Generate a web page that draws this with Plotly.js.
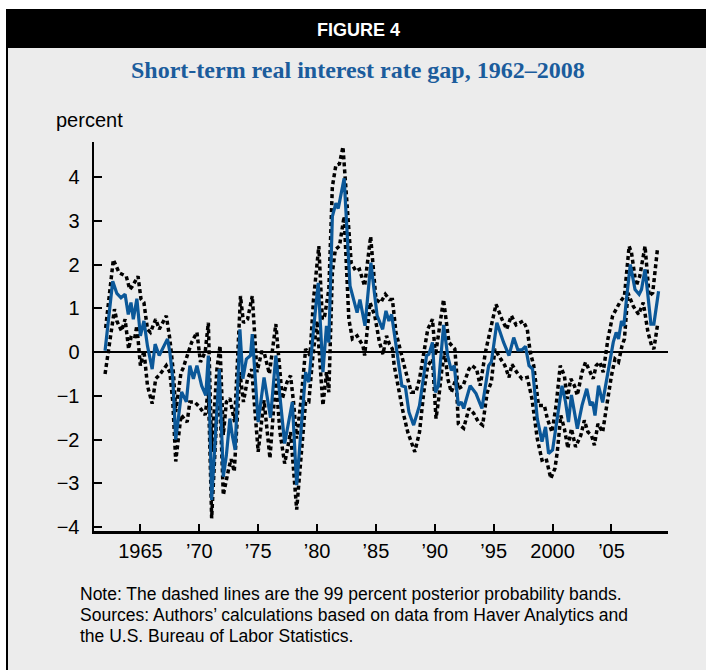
<!DOCTYPE html>
<html>
<head>
<meta charset="utf-8">
<script src="https://cdn.plot.ly/plotly-3.0.1.min.js"></script>
<style>html,body{margin:0;padding:0;background:#fff;}#chart{width:706px;height:670px;}</style>
</head>
<body>
<div id="chart"></div>
<script>
// ---- Data (decimal years, percent) ----
const gapYears = [1962.0,1962.65,1963.0,1963.35,1963.7,1963.97,1964.2,1964.4,1964.7,1965.0,1965.3,1965.6,1966.0,1966.25,1966.6,1967.3,1967.5,1967.75,1968.0,1968.5,1968.9,1969.2,1969.5,1969.8,1970.2,1970.55,1970.77,1971.05,1971.7,1972.04,1972.3,1972.6,1972.8,1973.05,1973.45,1973.7,1974.0,1974.35,1974.5,1975.0,1975.5,1976.05,1976.5,1977.25,1977.9,1978.27,1979.03,1979.3,1979.7,1980.1,1980.5,1980.8,1981.0,1981.3,1981.6,1981.8,1982.3,1982.8,1983.4,1983.64,1984.07,1984.57,1985.1,1985.57,1985.85,1986.1,1986.33,1986.76,1987.2,1987.5,1987.8,1988.2,1988.7,1989.3,1989.5,1989.8,1990.05,1990.3,1990.75,1991.1,1991.4,1991.65,1992.0,1992.25,1992.45,1993.0,1993.5,1994.0,1994.57,1994.8,1995.27,1995.84,1996.3,1996.7,1997.05,1997.4,1997.7,1998.0,1998.3,1998.7,1999.1,1999.4,1999.66,2000.0,2000.4,2000.8,2001.1,2001.35,2001.6,2002.1,2002.5,2002.9,2003.2,2003.4,2003.6,2003.9,2004.25,2004.7,2005.15,2005.4,2005.6,2005.85,2006.05,2006.3,2006.6,2007.0,2007.35,2007.55,2007.85,2008.1,2008.35,2008.6,2009.0];
const gapValues = [0.03,1.62,1.34,1.24,1.32,0.86,1.13,0.75,1.22,0.37,0.71,0.14,-0.39,0.18,-0.08,0.30,0.0,-0.61,-2.0,-0.91,-1.14,-0.31,-0.61,-0.31,-0.77,-0.99,-0.08,-3.38,-0.39,-2.85,-2.36,-1.52,-1.9,-2.24,0.52,-0.61,-0.16,-0.08,0.41,-1.6,-0.58,-1.5,-0.08,-2.09,-1.14,-3.04,-0.46,-0.69,0.52,1.58,-0.46,0.6,0.22,3.1,3.4,3.28,3.97,1.51,0.9,1.2,0.6,2.04,0.83,0.52,0.94,0.71,0.86,0.07,-0.77,-0.8,-1.37,-1.67,-1.22,-0.08,-0.05,0.22,-0.92,-0.77,0.62,-0.1,-0.42,-0.31,-1.22,-1.14,-1.29,-0.77,-0.95,-1.29,-0.31,-0.23,0.67,0.22,-0.08,0.33,0.05,0.05,0.13,-0.31,-0.39,-1.52,-2.05,-1.71,-2.32,-2.24,-1.52,-0.77,-1.14,-1.6,-0.98,-1.75,-1.22,-0.84,-1.22,-1.14,-1.45,-0.77,-1.15,-0.46,0.22,0.45,0.3,0.71,0.6,1.28,2.0,1.43,1.32,1.43,1.89,1.28,0.64,0.64,1.39];

const upperYears = [1962.05,1962.7,1963.2,1963.8,1964.1,1964.3,1964.8,1965.05,1965.3,1965.6,1965.85,1966.3,1966.6,1967.2,1967.5,1967.8,1968.0,1968.45,1968.6,1969.07,1969.35,1969.8,1970.1,1970.5,1970.77,1971.05,1971.5,1971.76,1972.04,1972.3,1972.6,1973.0,1973.5,1973.75,1974.1,1974.5,1974.9,1975.3,1975.5,1975.95,1976.5,1977.05,1977.45,1977.75,1978.0,1978.27,1978.65,1979.03,1979.4,1979.7,1980.15,1980.45,1980.65,1981.0,1981.3,1981.6,1981.9,1982.2,1982.6,1982.9,1983.3,1983.6,1984.04,1984.55,1985.0,1985.4,1985.8,1986.15,1986.4,1986.7,1987.4,1988.0,1988.4,1988.7,1989.4,1989.8,1990.05,1990.74,1991.2,1991.7,1991.96,1992.4,1992.9,1993.15,1993.55,1993.85,1994.3,1994.8,1995.2,1995.7,1996.1,1996.5,1996.9,1997.5,1997.85,1998.1,1998.4,1998.8,1999.3,1999.55,1999.95,2000.3,2000.65,2001.0,2001.25,2001.55,2001.85,2002.1,2002.5,2002.8,2003.2,2003.45,2003.7,2004.0,2004.3,2004.7,2005.1,2005.4,2005.7,2006.1,2006.5,2006.7,2007.1,2007.4,2007.85,2008.2,2008.5,2008.9];
const upperValues = [0.55,2.11,1.81,1.73,1.43,1.5,1.73,1.21,1.13,0.52,0.45,0.75,0.52,0.83,0.3,-0.46,-1.37,-0.46,-0.39,0.0,0.22,0.45,-0.23,0.0,0.67,-2.28,-0.39,0.15,-1.9,-1.14,-1.06,-1.6,1.28,0.67,0.75,1.28,-0.46,0.0,0.0,-0.5,0.64,-1.07,-0.69,-0.54,-1.14,-1.98,-1.07,0.07,-0.08,1.2,2.42,0.75,0.83,1.43,3.78,4.27,4.3,4.69,3.2,2.04,1.85,1.89,1.51,2.64,1.2,1.13,1.32,1.2,1.2,0.45,-0.31,-0.92,-0.92,-0.61,0.52,0.75,-0.08,1.2,0.22,0.07,-0.84,-0.77,-0.39,-0.31,-0.39,-0.77,0.0,0.6,1.09,0.75,0.52,0.83,0.62,0.71,0.52,0.0,-0.31,-1.22,-1.22,-1.52,-1.83,-1.22,-0.31,-0.54,-1.07,-0.61,-0.77,-0.99,-0.46,-0.23,-0.46,-0.61,-0.31,-0.23,-0.46,0.3,0.83,0.98,1.13,1.28,2.42,2.27,1.51,1.73,2.42,1.28,1.35,2.34];

const lowerYears = [1962.0,1962.4,1962.8,1963.0,1963.4,1963.7,1964.0,1964.2,1964.5,1964.7,1965.0,1965.3,1965.6,1966.0,1966.3,1966.6,1967.2,1967.5,1967.75,1968.0,1968.45,1968.97,1969.2,1969.6,1970.0,1970.5,1970.77,1971.05,1971.5,1971.76,1972.04,1972.5,1972.7,1972.97,1973.45,1973.75,1974.1,1974.45,1975.0,1975.5,1976.0,1976.5,1976.85,1977.25,1977.75,1978.27,1979.03,1979.3,1979.65,1980.0,1980.5,1980.8,1981.0,1981.3,1981.55,1981.9,1982.3,1982.7,1983.0,1983.4,1983.9,1984.04,1984.3,1984.5,1984.9,1985.3,1985.6,1985.9,1986.15,1986.4,1986.55,1987.0,1987.3,1987.7,1988.3,1988.7,1989.06,1989.4,1989.8,1990.1,1990.3,1990.6,1990.85,1991.1,1991.4,1991.8,1992.0,1992.45,1992.9,1993.3,1993.7,1994.06,1994.45,1994.8,1995.1,1995.6,1995.95,1996.3,1996.55,1996.95,1997.4,1997.85,1998.25,1998.7,1999.1,1999.45,1999.85,2000.2,2000.4,2000.7,2001.0,2001.3,2001.6,2001.95,2002.4,2002.7,2003.0,2003.3,2003.55,2003.85,2004.1,2004.25,2004.6,2005.0,2005.3,2005.6,2005.9,2006.1,2006.4,2006.85,2007.3,2007.7,2008.1,2008.4,2008.6,2008.9];
const lowerValues = [-0.5,0.3,0.98,0.71,0.48,0.75,0.07,0.33,0.3,0.6,-0.31,0.03,-0.77,-1.18,-0.61,-0.53,-0.31,-0.46,-1.14,-2.5,-1.44,-1.6,-1.14,-1.14,-1.25,-1.44,-0.84,-3.8,-1.37,-1.2,-3.27,-2.66,-2.45,-2.73,-0.46,-1.14,-0.61,-0.39,-2.28,-1.1,-2.43,-0.61,-1.83,-2.55,-1.83,-3.6,-1.14,-1.14,-0.08,0.71,-1.22,-0.46,-0.92,1.81,2.34,2.42,3.1,0.75,0.3,0.37,0.14,-0.08,0.52,1.13,0.83,0.22,-0.05,0.37,0.18,0.07,-0.31,-0.99,-1.37,-1.83,-2.28,-1.83,-0.92,-0.31,-0.16,-1.52,-1.14,-0.39,0.0,-0.61,-0.92,-0.61,-1.64,-1.74,-1.29,-1.4,-1.6,-1.67,-0.92,-0.69,0.07,-0.16,-0.31,-0.58,-0.28,-0.46,-0.61,-0.58,-1.07,-1.98,-2.47,-2.43,-2.89,-2.66,-2.28,-1.45,-1.75,-2.2,-1.75,-2.17,-1.9,-1.56,-1.83,-1.9,-2.13,-1.64,-1.75,-1.83,-1.22,-0.54,-0.16,-0.23,0.15,0.3,1.35,1.05,0.86,1.13,0.45,0.15,0.07,0.6];

const xTickVals = [1965,1970,1975,1980,1985,1990,1995,2000,2005];
const xTickText = ['1965','\u201970','\u201975','\u201980','\u201985','\u201990','\u201995','2000','\u201905'];
const yTickVals = [-4,-3,-2,-1,0,1,2,3,4];

// ---- pixel helpers for frame decorations ----
const L = 94, R = 668, T = 142, B = 531, W = 706, H = 670;
const PX = x => (x - L) / (R - L);
const PY = y => (B - y) / (B - T);

const dotted = {color: '#000', width: 3.5, dash: '4px,3px'};
const traces = [
  {x: upperYears, y: upperValues, type: 'scatter', mode: 'lines', line: dotted, hoverinfo: 'skip'},
  {x: lowerYears, y: lowerValues, type: 'scatter', mode: 'lines', line: dotted, hoverinfo: 'skip'},
  {x: gapYears, y: gapValues, type: 'scatter', mode: 'lines', line: {color: '#0b5899', width: 3.2}}
];

const sans = 'Liberation Sans, Arial, Helvetica, sans-serif';
const layout = {
  width: W, height: H,
  margin: {l: L, r: W - R, t: T, b: H - B, pad: 0},
  paper_bgcolor: '#ffffff',
  plot_bgcolor: 'rgba(0,0,0,0)',
  showlegend: false,
  font: {family: sans, size: 20, color: '#000'},
  xaxis: {
    range: [1961.06, 2009.8], showgrid: false, zeroline: false,
    showline: true, linecolor: '#000', linewidth: 2.5,
    ticks: 'inside', ticklen: 7, tickwidth: 2, tickcolor: '#000',
    tickvals: xTickVals, ticktext: xTickText,
    tickfont: {family: sans, size: 20, color: '#000'}
  },
  yaxis: {
    range: [-4.09, 4.8], showgrid: false,
    zeroline: true, zerolinecolor: '#000', zerolinewidth: 2,
    showline: true, linecolor: '#000', linewidth: 2.5,
    ticks: 'inside', ticklen: 8, tickwidth: 2, tickcolor: '#000',
    tickvals: yTickVals,
    tickfont: {family: sans, size: 20, color: '#000'},
    ticklabelstandoff: 8
  },
  shapes: [
    {type: 'rect', xref: 'paper', yref: 'paper', x0: PX(7), x1: PX(720), y0: PY(10), y1: PY(690),
     fillcolor: '#ececec', line: {color: '#000', width: 2}, layer: 'below'},
    {type: 'rect', xref: 'paper', yref: 'paper', x0: PX(7), x1: PX(720), y0: PY(10), y1: PY(48),
     fillcolor: '#000', line: {color: '#000', width: 0}, layer: 'below'}
  ],
  annotations: [
    {xref: 'paper', yref: 'paper', x: PX(358), y: PY(30), text: '<b>FIGURE 4</b>', showarrow: false,
     xanchor: 'center', yanchor: 'middle', font: {family: sans, size: 18, color: '#fff'}},
    {xref: 'paper', yref: 'paper', x: PX(358), y: PY(70), text: '<b>Short-term real interest rate gap, 1962\u20132008</b>', showarrow: false,
     xanchor: 'center', yanchor: 'middle', font: {family: 'Liberation Serif, Times New Roman, serif', size: 24, color: '#1b5c9c'}},
    {xref: 'paper', yref: 'paper', x: PX(54), y: PY(120), text: 'percent', showarrow: false,
     xanchor: 'left', yanchor: 'middle', font: {family: sans, size: 20, color: '#000'}},
    {xref: 'paper', yref: 'paper', x: PX(78), y: PY(594), text: 'Note: The dashed lines are the 99 percent posterior probability bands.', showarrow: false,
     xanchor: 'left', yanchor: 'middle', font: {family: sans, size: 17.5, color: '#000'}},
    {xref: 'paper', yref: 'paper', x: PX(78), y: PY(615), text: 'Sources: Authors\u2019 calculations based on data from Haver Analytics and', showarrow: false,
     xanchor: 'left', yanchor: 'middle', font: {family: sans, size: 17.5, color: '#000'}},
    {xref: 'paper', yref: 'paper', x: PX(78), y: PY(636), text: 'the U.S. Bureau of Labor Statistics.', showarrow: false,
     xanchor: 'left', yanchor: 'middle', font: {family: sans, size: 17.5, color: '#000'}}
  ]
};

Plotly.newPlot('chart', traces, layout, {staticPlot: true, displayModeBar: false});
</script>
</body>
</html>
